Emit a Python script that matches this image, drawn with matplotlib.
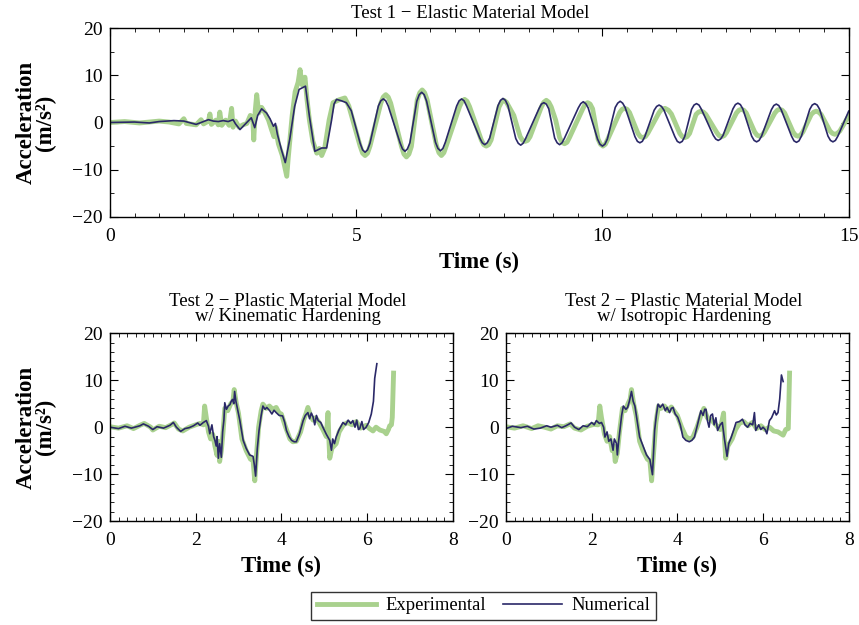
import numpy as np
import matplotlib.pyplot as plt
from matplotlib.ticker import MultipleLocator

plt.rcParams['font.family'] = ['Liberation Serif', 'DejaVu Serif']

GREEN = '#a9d18e'
NAVY = '#2a2868'

# Test 1 - elastic model, experimental
t1_exp = [0, 0.3, 0.6, 1.0, 1.2, 1.4, 1.5, 1.55, 1.75, 1.85, 1.9, 2.0, 2.03, 2.06, 2.15, 2.2,
          2.23, 2.27, 2.35, 2.42, 2.47, 2.5, 2.55, 2.62, 2.7, 2.78, 2.85, 2.9, 2.92, 2.95, 2.98,
          3.02, 3.08, 3.15, 3.22, 3.28, 3.33, 3.36, 3.42, 3.5, 3.59, 3.62, 3.7, 3.76, 3.82, 3.86,
          3.9, 3.96, 4.0, 4.05, 4.12, 4.2, 4.25, 4.3, 4.36, 4.45,
          4.53, 4.65, 4.77, 4.85, 5.0,
          5.08, 5.13, 5.18, 5.23, 5.28, 5.5, 5.55, 5.6, 5.65, 5.7,
          5.92, 5.97, 6.02, 6.07, 6.12, 6.24, 6.29, 6.34, 6.39, 6.44,
          6.63, 6.68, 6.73, 6.78, 6.83, 7.1, 7.15, 7.2, 7.25, 7.3,
          7.54, 7.59, 7.64, 7.69, 7.74, 7.9, 7.95, 8.0, 8.05, 8.12, 8.2, 8.27,
          8.33, 8.38, 8.43, 8.48, 8.53, 8.76, 8.81, 8.86, 8.91, 8.96, 9.05,
          9.13, 9.18, 9.23, 9.28, 9.33, 9.6, 9.65, 9.7, 9.75, 9.8,
          9.91, 9.96, 10.01, 10.06, 10.11, 10.35, 10.4, 10.45, 10.5, 10.55,
          10.72, 10.77, 10.82, 10.87, 10.92, 11.15, 11.2, 11.27, 11.34, 11.4,
          11.57, 11.62, 11.67, 11.72, 11.77, 11.9, 11.95, 12.0, 12.05, 12.1,
          12.32, 12.37, 12.42, 12.47, 12.52, 12.72, 12.77, 12.82, 12.87, 12.92,
          13.09, 13.14, 13.19, 13.24, 13.29, 13.5, 13.55, 13.6, 13.65, 13.7,
          13.87, 13.92, 13.97, 14.02, 14.07, 14.24, 14.29, 14.34, 14.39, 14.44,
          14.62, 14.67, 14.72, 14.77, 14.82, 15.0]
a1_exp = [0, 0.2, -0.1, 0.3, 0.1, -0.3, 0.8, -0.2, -0.5, 0.6, -0.3, 0.3, 1.8, -0.4, 0.5, -0.5,
          2.2, -0.6, 0.5, -0.6, 3.0, -1.0, 0.3, -1.0, -0.5, -0.2, 1.5, 1.0, -3.7, 2.5, 5.9,
          2.0, 3.2, 2.0, 0.5, -1.5, -3.0, -1.0, -4.5, -7.0, -11.4, -7.5, 1.5, 6.5, 8.5, 11.2,
          8.0, 9.6, 5.0, 0.5, -4.0, -6.5, -5.5, -7.0, -5.5, 0.5,
          4.2, 4.8, 5.2, 3.5, -2.0,
          -5.0, -6.5, -7.0, -6.5, -5.0, 4.1, 5.4, 5.9, 5.4, 4.1,
          -5.1, -6.7, -7.3, -6.7, -5.1, 4.8, 6.3, 6.9, 6.3, 4.8,
          -4.9, -6.4, -7.0, -6.4, -4.9, 3.4, 4.5, 4.9, 4.5, 3.4,
          -3.7, -4.7, -5.0, -4.7, -3.7, 3.3, 4.3, 4.7, 4.3, 3.0, 1.5, -1.0,
          -3.0, -3.8, -4.0, -3.8, -3.0, 3.3, 4.3, 4.7, 4.3, 3.3, 0.5,
          -3.2, -4.2, -4.5, -4.2, -3.2, 2.9, 3.9, 4.2, 3.9, 2.9,
          -3.5, -4.6, -5.0, -4.6, -3.5, 2.1, 2.8, 3.0, 2.8, 2.1,
          -2.3, -3.0, -3.2, -3.0, -2.3, 2.1, 2.8, 3.0, 2.6, 1.8,
          -2.3, -3.0, -3.2, -3.0, -2.3, 1.7, 2.2, 2.4, 2.2, 1.7,
          -2.1, -2.8, -3.0, -2.8, -2.1, 2.0, 2.6, 2.8, 2.6, 2.0,
          -2.0, -2.7, -2.9, -2.7, -2.0, 2.0, 2.6, 2.8, 2.6, 2.0,
          -2.0, -2.7, -2.9, -2.7, -2.0, 1.7, 2.2, 2.4, 2.2, 1.7,
          -1.8, -2.3, -2.5, -2.3, -1.8, 1.4]

# Test 1 - elastic model, numerical
t1_num = [0, 0.5, 0.8, 1.0, 1.3, 1.5, 1.75, 1.9, 2.0, 2.1, 2.2, 2.3, 2.4, 2.5, 2.55, 2.64, 2.75,
          2.87, 2.94, 3.0, 3.08, 3.18, 3.25, 3.32, 3.36, 3.4, 3.48, 3.56, 3.65, 3.75, 3.84, 3.97,
          4.05, 4.16, 4.3, 4.4, 4.5,
          4.55, 4.6, 4.7, 4.8, 4.9,
          5.08, 5.13, 5.18, 5.23, 5.28, 5.45, 5.5, 5.55, 5.6, 5.65,
          5.89, 5.94, 5.99, 6.04, 6.09, 6.23, 6.28, 6.33, 6.38, 6.43,
          6.61, 6.66, 6.71, 6.76, 6.81, 7.04, 7.09, 7.14, 7.19, 7.24,
          7.51, 7.56, 7.61, 7.66, 7.71, 7.88, 7.93, 7.98, 8.03, 8.08,
          8.24, 8.29, 8.34, 8.39, 8.44, 8.71, 8.76, 8.81, 8.86, 8.91,
          9.03, 9.08, 9.13, 9.18, 9.23, 9.51, 9.56, 9.61, 9.66, 9.71,
          9.9, 9.95, 10.0, 10.05, 10.1, 10.26, 10.31, 10.36, 10.41, 10.46,
          10.66, 10.71, 10.76, 10.81, 10.86, 11.05, 11.1, 11.15, 11.2, 11.25,
          11.47, 11.52, 11.57, 11.62, 11.67, 11.81, 11.86, 11.91, 11.96, 12.01,
          12.25, 12.3, 12.35, 12.4, 12.45, 12.65, 12.7, 12.75, 12.8, 12.85,
          13.03, 13.08, 13.13, 13.18, 13.23, 13.43, 13.48, 13.53, 13.58, 13.63,
          13.84, 13.89, 13.94, 13.99, 14.04, 14.21, 14.26, 14.31, 14.36, 14.41,
          14.58, 14.63, 14.68, 14.73, 14.78, 15.0]
a1_num = [0, 0.1, -0.1, 0.2, 0.4, 0.3, -0.4, 0.2, 0.6, 0.3, 0.2, 0.4, 0.2, 0.6, -0.3, -1.5, -0.3,
          1.0, -1.1, 1.5, 2.9, 2.0, 0.8, -0.8, -0.2, -2.5, -5.7, -8.5, -3.6, 3.4, 7.0, 7.7,
          1.3, -6.1, -5.4, -5.4, 0.5,
          3.9, 4.9, 4.6, 4.2, 2.5,
          -4.4, -5.8, -6.3, -5.8, -4.4, 3.5, 4.6, 5.0, 4.6, 3.5,
          -4.3, -5.6, -6.1, -5.6, -4.3, 4.5, 5.9, 6.4, 5.9, 4.5,
          -4.2, -5.5, -6.0, -5.5, -4.2, 3.5, 4.6, 5.0, 4.6, 3.5,
          -3.3, -4.3, -4.7, -4.3, -3.3, 3.6, 4.7, 5.1, 4.7, 3.6,
          -3.4, -4.4, -4.8, -4.4, -3.4, 2.9, 3.9, 4.2, 3.9, 2.9,
          -3.3, -4.3, -4.7, -4.3, -3.3, 3.1, 4.0, 4.4, 4.0, 3.1,
          -3.5, -4.6, -5.0, -4.6, -3.5, 3.2, 4.1, 4.5, 4.1, 3.2,
          -3.0, -4.0, -4.3, -4.0, -3.0, 2.6, 3.4, 3.7, 3.4, 2.6,
          -3.0, -4.0, -4.3, -4.0, -3.0, 2.8, 3.7, 4.0, 3.7, 2.8,
          -2.7, -3.5, -3.8, -3.5, -2.7, 2.9, 3.8, 4.1, 3.8, 2.9,
          -2.9, -3.8, -4.1, -3.8, -2.9, 2.7, 3.6, 3.9, 3.6, 2.7,
          -2.9, -3.9, -4.2, -3.9, -2.9, 2.8, 3.7, 4.0, 3.7, 2.8,
          -2.9, -3.8, -4.1, -3.8, -2.9, 2.4]

# Test 2 - kinematic hardening
tk_exp = [0, 0.2, 0.4, 0.55, 0.7, 0.8, 0.95, 1.0, 1.15, 1.3, 1.45, 1.5, 1.6, 1.7, 1.85, 2.0, 2.1,
          2.18, 2.21, 2.25, 2.3, 2.35, 2.4, 2.45, 2.5, 2.53, 2.56, 2.6, 2.64, 2.68, 2.75, 2.82,
          2.87, 2.9, 2.95, 3.0, 3.08, 3.18, 3.28, 3.34, 3.38, 3.42, 3.47, 3.53, 3.57, 3.65, 3.72,
          3.8, 3.88, 3.95, 4.0, 4.1, 4.2, 4.27, 4.35, 4.45, 4.52, 4.58, 4.62, 4.68, 4.74, 4.8,
          4.88, 4.97, 5.05, 5.09, 5.11, 5.13, 5.18, 5.28, 5.35, 5.45, 5.55, 5.65, 5.75, 5.85,
          5.98, 6.06, 6.14, 6.21, 6.3, 6.4, 6.45, 6.5, 6.53, 6.57, 6.59, 6.62]
ak_exp = [0.1, -0.2, 0.3, -0.3, 0.4, 0.8, 0.0, -0.6, 0.2, -0.1, 0.6, 0.9, -0.4, -0.8, 0.0, 0.5, 0.8,
          0.5, 4.5, 2.0, -1.0, -2.5, -1.5, -4.0, -6.0, -3.0, -7.3, -5.0, -1.0, 4.0, 3.5, 5.0,
          5.5, 8.0, 5.0, 3.0, -2.5, -5.0, -6.8, -7.0, -11.4, -6.0, 0.0, 3.5, 4.9, 4.0, 4.5,
          3.8, 4.2, 3.0, 2.8, 0.0, -2.5, -3.1, -3.0, -1.0, 1.5, 3.0, 4.2, 2.5, 1.5, 2.0,
          1.0, -0.5, -2.0, 3.1, -2.5, -6.6, -4.5, -3.5, -1.0, 0.5, 1.0, 0.5, 1.2, -0.2,
          0.4, -0.3, -0.8, 0.0, -0.6, -0.9, -1.4, -0.5, 0.3, 0.5, 2.1, 11.5]
tk_num = [0, 0.2, 0.35, 0.5, 0.7, 0.78, 0.9, 1.0, 1.1, 1.25, 1.4, 1.48, 1.55, 1.65, 1.75, 1.85,
          1.95, 2.05, 2.1, 2.18, 2.25, 2.3, 2.33, 2.38, 2.42, 2.45, 2.48, 2.5, 2.53, 2.56, 2.6,
          2.63, 2.66, 2.68, 2.72, 2.76, 2.8, 2.83, 2.86, 2.89, 2.91, 2.94, 2.97, 3.03, 3.11, 3.18,
          3.26, 3.34, 3.37, 3.4, 3.44, 3.48, 3.53, 3.57, 3.62, 3.66, 3.73, 3.78, 3.83, 3.88, 3.95,
          4.03, 4.08, 4.12, 4.18, 4.24, 4.3, 4.35, 4.42, 4.51, 4.56, 4.62, 4.66, 4.7, 4.74, 4.78,
          4.82, 4.86, 4.92, 4.97, 5.05, 5.13, 5.17, 5.2, 5.24, 5.28, 5.35, 5.44, 5.5, 5.56, 5.62,
          5.67, 5.72, 5.76, 5.8, 5.83, 5.88, 5.92, 5.98, 6.04, 6.1, 6.15, 6.18, 6.23]
ak_num = [0, -0.3, 0.2, -0.2, 0.3, 0.7, 0.2, -0.5, 0.1, -0.2, 0.4, 1.0, 0.0, -0.9, -0.3, -0.1,
          0.3, 0.9, 0.4, 1.0, 1.4, 0.2, -1.4, 0.5, -2.0, -2.8, -4.0, -2.0, -6.6, -3.5, -6.4,
          -1.0, 1.5, 5.2, 3.8, 4.5, 4.8, 5.5, 5.9, 5.0, 7.6, 5.5, 4.2, 1.5, -2.8, -4.5,
          -5.9, -6.2, -8.0, -10.4, -4.5, -0.7, 2.5, 4.5, 3.8, 4.2, 3.5, 2.8, 3.6, 3.1, 2.5,
          2.4, 1.0, -0.7, -2.0, -2.8, -3.1, -3.1, -1.5, 1.4, 2.5, 3.1, 1.8, 3.0, 2.2, 0.5,
          2.5, 1.4, 1.0, 0.0, -1.5, -2.8, -4.9, -2.5, -3.5, -2.1, -0.5, 1.0, 0.5, 1.5, 0.8,
          1.4, 0.0, 1.5, -0.5, -0.3, 1.2, -0.5, 0.0, 1.0, 2.8, 5.5, 10.4, 13.5]

# Test 2 - isotropic hardening
ti_exp = [0, 0.2, 0.4, 0.6, 0.75, 0.9, 1.05, 1.2, 1.35, 1.5, 1.6, 1.75, 1.9, 2.05, 2.15, 2.19, 2.23,
          2.3, 2.36, 2.42, 2.48, 2.52, 2.55, 2.6, 2.65, 2.72, 2.78, 2.85, 2.9, 2.93, 2.98, 3.04,
          3.12, 3.2, 3.3, 3.36, 3.4, 3.45, 3.5, 3.56, 3.62, 3.7, 3.78, 3.86, 3.92, 4.0, 4.1,
          4.2, 4.28, 4.36, 4.46, 4.55, 4.62, 4.7, 4.8, 4.9, 5.0, 5.08, 5.1, 5.13, 5.18, 5.28,
          5.36, 5.45, 5.55, 5.65, 5.75, 5.85, 5.95, 6.05, 6.15, 6.25, 6.35, 6.47, 6.53, 6.59, 6.62]
ai_exp = [0.1, -0.2, 0.3, -0.3, 0.3, 0.0, -0.4, 0.3, 0.1, 0.7, -0.2, -0.6, 0.2, 0.6, 0.5, 4.5, 2.0,
          -1.5, -3.0, -2.0, -5.0, -4.0, -7.3, -5.5, -1.0, 4.0, 3.5, 5.0, 6.0, 8.0, 5.0, 2.5,
          -3.0, -5.0, -6.8, -7.2, -11.4, -5.0, 1.0, 4.5, 4.0, 4.5, 3.5, 4.3, 3.5, 2.5, 0.0,
          -2.0, -2.5, -2.2, 0.0, 2.5, 4.0, 2.0, 1.5, 0.5, -0.5, 3.0, -2.5, -6.6, -4.0, -2.5,
          -0.5, 0.8, 1.2, 0.3, 1.0, -0.3, 0.3, -0.5, 0.0, -0.8, -1.0, -1.7, -0.5, -0.3, 11.5]
ti_num = [0, 0.15, 0.35, 0.5, 0.65, 0.8, 0.95, 1.05, 1.2, 1.3, 1.4, 1.52, 1.6, 1.7, 1.8, 1.9, 2.0,
          2.06, 2.11, 2.18, 2.23, 2.28, 2.31, 2.36, 2.4, 2.45, 2.5, 2.53, 2.58, 2.6, 2.63, 2.66,
          2.7, 2.74, 2.8, 2.84, 2.88, 2.93, 2.97, 3.01, 3.06, 3.12, 3.2, 3.28, 3.36, 3.42, 3.47,
          3.51, 3.55, 3.6, 3.66, 3.72, 3.76, 3.82, 3.86, 3.9, 3.95, 4.01, 4.07, 4.13, 4.2, 4.28,
          4.34, 4.4, 4.47, 4.55, 4.6, 4.64, 4.67, 4.7, 4.74, 4.78, 4.82, 4.86, 4.9, 4.94, 5.0,
          5.05, 5.1, 5.16, 5.2, 5.26, 5.32, 5.37, 5.45, 5.52, 5.58, 5.64, 5.7, 5.76, 5.8, 5.83,
          5.9, 5.95, 6.0, 6.05, 6.09, 6.15, 6.2, 6.27, 6.31, 6.35, 6.39, 6.43, 6.47]
ai_num = [-0.3, 0.2, -0.1, 0.2, -0.4, -0.2, 0.3, 0.0, 0.4, -0.1, 0.3, 0.9, 0.0, -0.5, 0.3, 0.1, 1.0,
          0.5, 1.4, 0.8, 1.0, 0.0, -2.1, -1.0, -3.0, -2.5, -4.9, -2.5, -3.5, -5.9, -3.0, -0.7,
          2.5, 4.5, 3.8, 4.2, 5.5, 7.6, 5.5, 4.5, 1.5, -2.1, -4.0, -5.9, -6.9, -10.1, -0.7,
          2.5, 4.9, 4.2, 4.9, 3.5, 4.2, 3.1, 4.0, 4.2, 2.8, 2.1, 0.5, -2.1, -2.8, -3.1,
          -2.8, -2.1, 0.5, 3.5, 2.5, 3.8, 3.8, 1.5, 0.0, 2.5, 2.8, 0.5, 2.0, -0.7, 0.5,
          1.0, -2.5, -6.2, -3.5, -2.1, -0.5, 1.0, 1.2, 1.7, 0.5, 0.0, 0.8, 0.5, 3.1, -0.7,
          0.5, -0.5, 0.0, -0.5, -1.4, 1.4, 2.0, 3.5, 2.6, 3.1, 6.0, 11.1, 9.7]


def style_axes(ax, xmax, xmajor, xminor, yminor):
    ax.set_xlim(0, xmax)
    ax.set_ylim(-20, 20)
    ax.set_yticks([-20, -10, 0, 10, 20])
    ax.xaxis.set_major_locator(MultipleLocator(xmajor))
    ax.xaxis.set_minor_locator(MultipleLocator(xminor))
    ax.yaxis.set_minor_locator(MultipleLocator(yminor))
    ax.tick_params(which='both', direction='in', top=True, right=True, labelsize=14)
    ax.tick_params(axis='y', pad=5)
    ax.tick_params(axis='x', pad=8)
    ax.tick_params(which='major', length=6)
    ax.tick_params(which='minor', length=3)
    for s in ax.spines.values():
        s.set_linewidth(1.0)
    ax.set_xlabel('Time (s)', fontsize=16.5, fontweight='bold', labelpad=5)


def add_ylabel(ax):
    ax.set_ylabel('Acceleration\n(m/s²)', fontsize=16.5, fontweight='bold',
                  linespacing=0.85, labelpad=12)


fig = plt.figure(figsize=(8.59, 6.25), dpi=100)
ax1 = fig.add_axes([0.128, 0.653, 0.860, 0.302])
ax2 = fig.add_axes([0.128, 0.166, 0.399, 0.301])
ax3 = fig.add_axes([0.589, 0.166, 0.399, 0.301])

ax1.plot(t1_exp, a1_exp, color=GREEN, lw=3.5, label='Experimental')
ax1.plot(t1_num, a1_num, color=NAVY, lw=1.2, label='Numerical')
style_axes(ax1, 15, 5, 0.5, 5)
ax1.set_title('Test 1 − Elastic Material Model', fontsize=13.5, pad=7, x=0.487)
add_ylabel(ax1)

ax2.plot(tk_exp, ak_exp, color=GREEN, lw=3.5)
ax2.plot(tk_num, ak_num, color=NAVY, lw=1.2)
style_axes(ax2, 8, 2, 0.2, 2)
ax2.set_title('Test 2 − Plastic Material Model\nw/ Kinematic Hardening', fontsize=13.5,
              pad=9, linespacing=0.85, x=0.52)
add_ylabel(ax2)

ax3.plot(ti_exp, ai_exp, color=GREEN, lw=3.5)
ax3.plot(ti_num, ai_num, color=NAVY, lw=1.2)
style_axes(ax3, 8, 2, 0.2, 2)
ax3.set_title('Test 2 − Plastic Material Model\nw/ Isotropic Hardening', fontsize=13.5,
              pad=9, linespacing=0.85, x=0.52)

handles, labels = ax1.get_legend_handles_labels()
leg = fig.legend(handles, labels, loc='center', bbox_to_anchor=(0.563, 0.031), ncol=2,
                 fontsize=13.4, frameon=True, fancybox=False, handlelength=3.2,
                 columnspacing=0.9, borderpad=0.3, handletextpad=0.5)
leg.get_frame().set_edgecolor('black')
leg.get_frame().set_linewidth(1.0)

fig.savefig('out.png', dpi=100)
